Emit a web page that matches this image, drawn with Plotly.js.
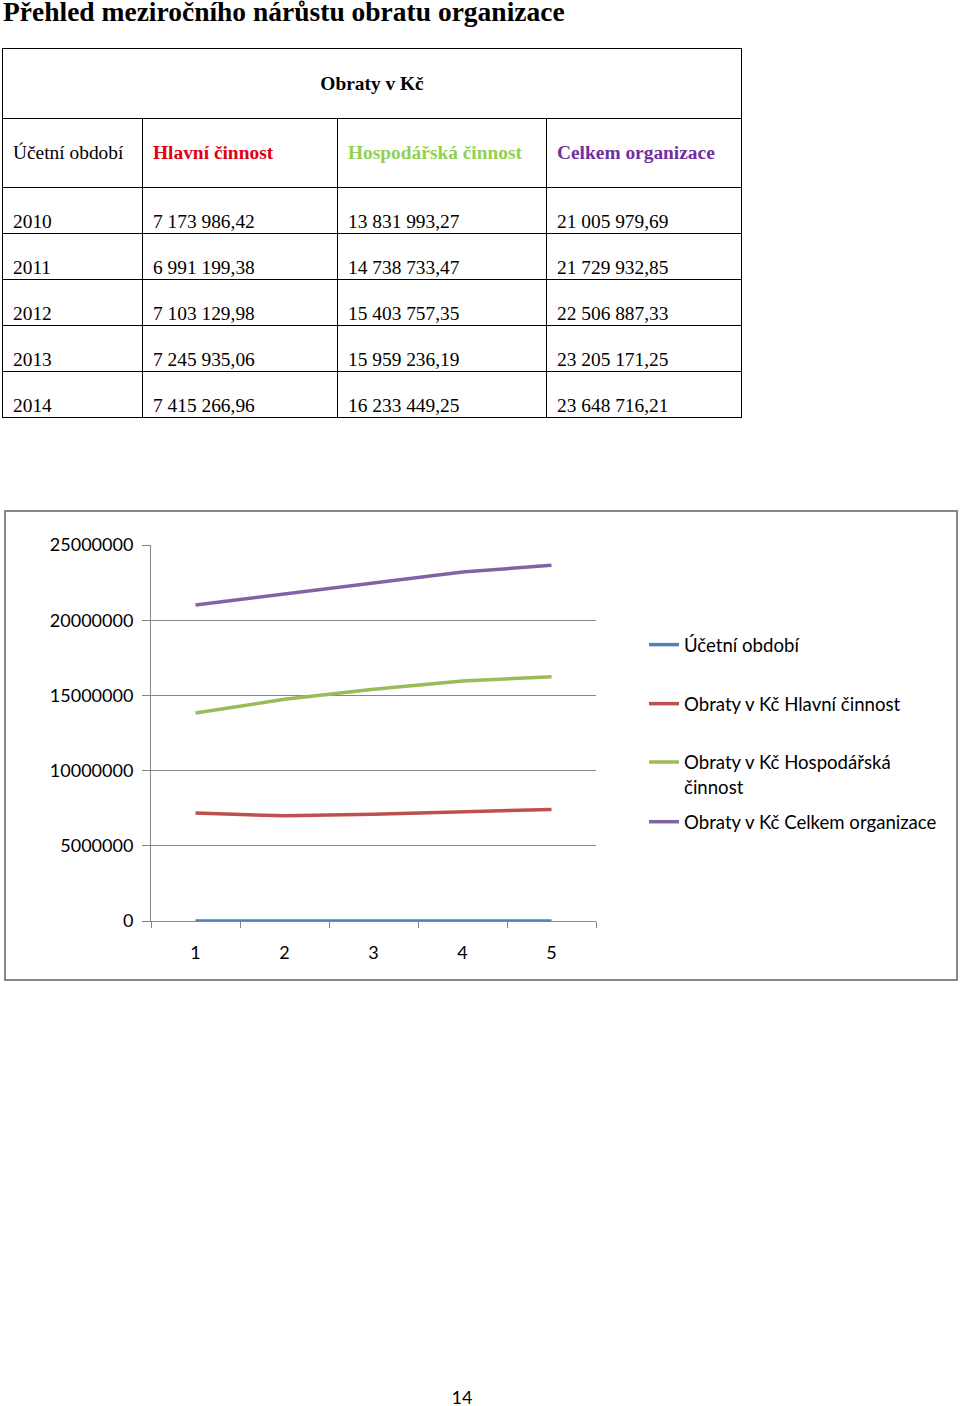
<!DOCTYPE html>
<html>
<head>
<meta charset="utf-8">
<script src="https://cdn.plot.ly/plotly-3.0.1.min.js"></script>
<style>
  html, body { margin: 0; padding: 0; background: #fff; }
  body { width: 960px; height: 1406px; position: relative; overflow: hidden; }
  #title { position: absolute; left: 3px; top: 0px; line-height: 24px; font-family: "Liberation Serif", "Times New Roman", serif; font-weight: bold; font-size: 27.5px; color: #000; white-space: nowrap; }
  #tbl { position: absolute; left: 2px; top: 48px; border-collapse: collapse; font-family: "Liberation Serif", "Times New Roman", serif; font-size: 19.4px; color: #000; table-layout: fixed; }
  #tbl td { border: 1px solid #000; padding: 0 0 0 10px; white-space: nowrap; }
  #tbl tr.h1 td { height: 69px; text-align: center; font-weight: bold; padding: 0; }
  #tbl tr.h2 td { height: 68px; vertical-align: middle; }
  #tbl tr.d td { height: 45px; vertical-align: bottom; padding-bottom: 0px; }
  #chartbox { position: absolute; left: 4px; top: 510px; width: 954px; height: 471px; box-sizing: border-box; border: 2px solid #868686; }
  #chart { width: 950px; height: 467px; }
  #pagenum { position: absolute; left: 0; width: 924px; top: 1386px; text-align: center; font-family: Lato, sans-serif; font-size: 18px; color: #000; }
</style>
</head>
<body>
<div id="title">Přehled meziročního nárůstu obratu organizace</div>
<table id="tbl"></table>
<div id="chartbox"><div id="chart"></div></div>
<div id="pagenum">14</div>
<script>
// ---- data ----
var tableGroupHeader = "Obraty v Kč";
var columnHeaders = ["Účetní období", "Hlavní činnost", "Hospodářská činnost", "Celkem organizace"];
var columnHeaderColors = ["#000000", "#E00010", "#92D050", "#7030A0"];
var years = [2010, 2011, 2012, 2013, 2014];
var hlavniText = ["7 173 986,42", "6 991 199,38", "7 103 129,98", "7 245 935,06", "7 415 266,96"];
var hospodarskaText = ["13 831 993,27", "14 738 733,47", "15 403 757,35", "15 959 236,19", "16 233 449,25"];
var celkemText = ["21 005 979,69", "21 729 932,85", "22 506 887,33", "23 205 171,25", "23 648 716,21"];

var hlavni = [7173986.42, 6991199.38, 7103129.98, 7245935.06, 7415266.96];
var hospodarska = [13831993.27, 14738733.47, 15403757.35, 15959236.19, 16233449.25];
var celkem = [21005979.69, 21729932.85, 22506887.33, 23205171.25, 23648716.21];

var xCategories = ["1", "2", "3", "4", "5"];
var yTickVals = [0, 5000000, 10000000, 15000000, 20000000, 25000000];
var yTickText = ["0", "5000000", "10000000", "15000000", "20000000", "25000000"];
var seriesNames = ["Účetní období", "Obraty v Kč Hlavní činnost", "Obraty v Kč Hospodářská<br>činnost", "Obraty v Kč Celkem organizace"];
var seriesColors = ["#4F81BD", "#C0504D", "#9BBB59", "#8064A2"];

// ---- table ----
var colWidths = [140, 195, 209, 195];
var tbl = document.getElementById("tbl");
var cg = document.createElement("colgroup");
colWidths.forEach(function (w) { var c = document.createElement("col"); c.style.width = w + "px"; cg.appendChild(c); });
tbl.appendChild(cg);
var r1 = tbl.insertRow(); r1.className = "h1";
var c1 = r1.insertCell(); c1.colSpan = 4; c1.textContent = tableGroupHeader;
var r2 = tbl.insertRow(); r2.className = "h2";
columnHeaders.forEach(function (h, i) {
  var c = r2.insertCell(); c.textContent = h; c.style.color = columnHeaderColors[i];
  if (i > 0) c.style.fontWeight = "bold";
});
years.forEach(function (y, i) {
  var r = tbl.insertRow(); r.className = "d";
  [String(y), hlavniText[i], hospodarskaText[i], celkemText[i]].forEach(function (t) {
    var c = r.insertCell(); c.textContent = t;
  });
});

// ---- chart ----
var seriesValues = [years, hlavni, hospodarska, celkem];
var legendIds = ["legend", "legend2", "legend3", "legend4"];
var traces = seriesValues.map(function (vals, i) {
  return {
    type: "scatter", mode: "lines", x: xCategories, y: vals,
    name: seriesNames[i], legend: legendIds[i],
    line: { color: seriesColors[i], width: 3.5 },
    hoverinfo: "skip"
  };
});

var legFont = { family: "Lato, sans-serif", size: 18.6, color: "#000" };
function leg(y) {
  return { x: 1.1079, xanchor: "left", y: y, yanchor: "middle", font: legFont, bgcolor: "rgba(0,0,0,0)", borderwidth: 0, valign: "top" };
}

var layout = {
  width: 950, height: 467,
  margin: { l: 145, r: 360, t: 33, b: 58 },
  paper_bgcolor: "#fff", plot_bgcolor: "#fff",
  showlegend: true,
  xaxis: {
    type: "category", range: [-0.5, 4.5], tickson: "boundaries", ticks: "outside", ticklen: 6, tickcolor: "#868686",
    showline: true, linecolor: "#868686", linewidth: 1, showgrid: false, zeroline: false,
    tickfont: { family: "Lato, sans-serif", size: 18, color: "#000" }, ticklabelstandoff: 15
  },
  yaxis: {
    range: [0, 25000000], tickvals: yTickVals, ticktext: yTickText,
    ticks: "outside", ticklen: 8, tickcolor: "#868686",
    showline: true, linecolor: "#868686", linewidth: 1,
    showgrid: true, gridcolor: "#868686", gridwidth: 1, zeroline: false,
    tickfont: { family: "Lato, sans-serif", size: 18, color: "#000" }, ticklabelstandoff: 5
  },
  legend: leg(0.734),
  legend2: leg(0.577),
  legend3: leg(0.3896),
  legend4: leg(0.263)
};

Plotly.newPlot("chart", traces, layout, { staticPlot: true, displayModeBar: false });
</script>
</body>
</html>
